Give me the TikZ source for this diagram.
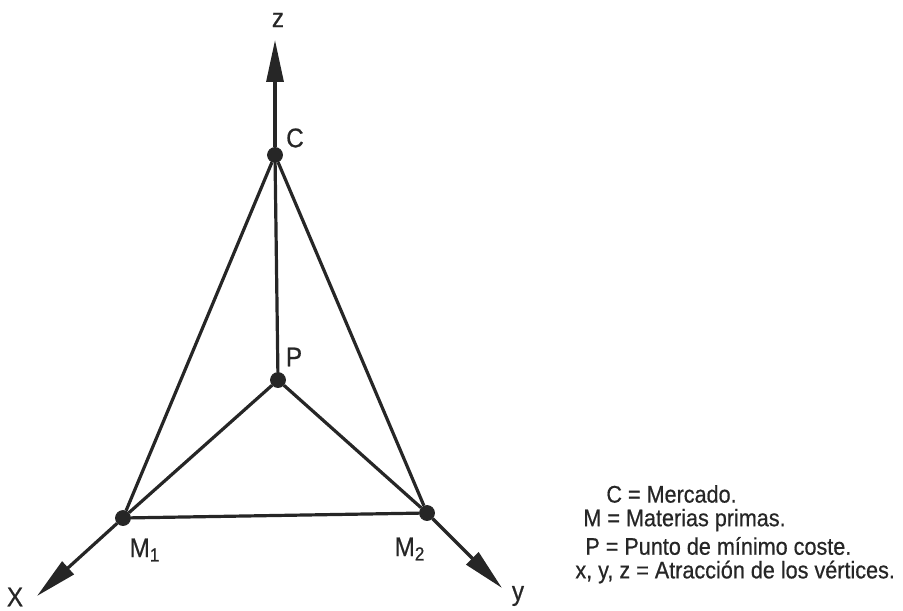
\documentclass[tikz,border=0pt]{standalone}
\usepackage{fontspec}
\setmainfont[FakeStretch=0.9,FakeBold=0.6]{Liberation Sans}
\usetikzlibrary{arrows.meta}
\definecolor{inkdark}{HTML}{262626}

\begin{document}
\begin{tikzpicture}[
  x=0.5pt, y=-0.5pt,
  dot/.style={
    circle,
    fill=inkdark,
    draw=inkdark,
    inner sep=0pt,
    minimum size=7.5pt
  },
  edge/.style={
    draw=inkdark,
    line width=1.6pt
  },
  axis/.style={
    edge,
    -{Triangle[length=21pt,width=8.5pt]}
  },
  lbl/.style={
    font=\fontsize{13.5}{15}\selectfont,
    text=inkdark,
    inner sep=0pt
  },
  legend/.style={
    font=\fontsize{12}{14}\selectfont,
    text=inkdark,
    inner sep=0pt,
    anchor=west
  }
]
  \useasboundingbox (0,0) rectangle (903,610);

  % -------------------------------------------------------------
  % VERTICES AND MINIMUM-COST POINT
  % -------------------------------------------------------------
  \node[dot] (C)  at (275,155) {};
  \node[dot] (P)  at (278,380) {};
  \node[dot] (M1) at (123,518) {};
  \node[dot] (M2) at (427,513) {};

  % axis ends
  \coordinate (zend) at (275,40);
  \coordinate (xend) at (37,596);
  \coordinate (yend) at (502,588);

  % -------------------------------------------------------------
  % TRIANGLE AND LINKS TO P
  % -------------------------------------------------------------
  \draw[edge] (C) -- (M1);
  \draw[edge] (C) -- (M2);
  \draw[edge] (M1) -- (M2);
  \draw[edge] (C) -- (P);
  \draw[edge] (P) -- (M1);
  \draw[edge] (P) -- (M2);

  % attraction axes
  \draw[axis] (C) -- (zend);
  \draw[axis] (M1) -- (xend);
  \draw[axis] (M2) -- (yend);

  % -------------------------------------------------------------
  % LABELS
  % -------------------------------------------------------------
  \node[lbl] (zlab)  at (278,20)  {z};
  \node[lbl] (Clab)  at (295,138) {C};
  \node[lbl] (Plab)  at (294,357) {P};
  \node[lbl] (M1lab) at (145,550) {M\textsubscript{1}};
  \node[lbl] (M2lab) at (410,549) {M\textsubscript{2}};
  \node[lbl] (xlab)  at (15,597)  {X};
  \node[lbl] (ylab)  at (518,596) {y};

  % legend
  \node[legend] (leg1) at (606,494) {C = Mercado.};
  \node[legend] (leg2) at (583,520) {M = Materias primas.};
  \node[legend] (leg3) at (585,546) {P = Punto de mínimo coste.};
  \node[legend] (leg4) at (575,572) {x, y, z = Atracción de los vértices.};

\end{tikzpicture}
\end{document}
